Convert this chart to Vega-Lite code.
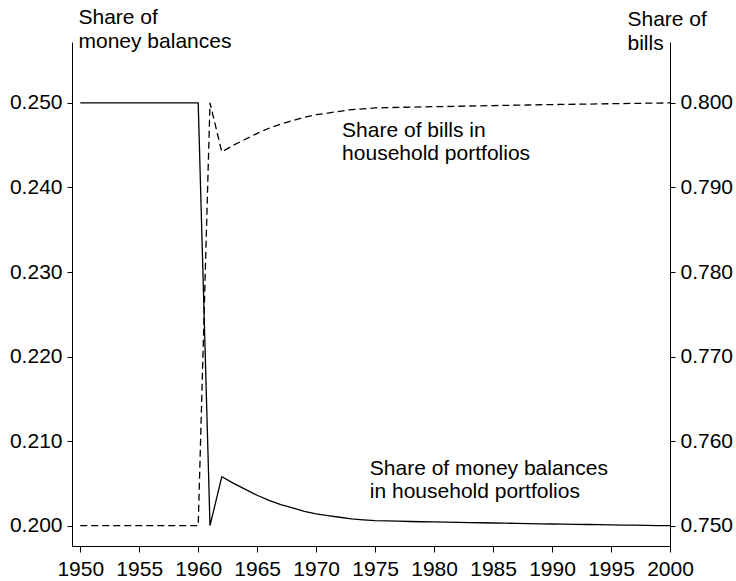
{
  "$schema": "https://vega.github.io/schema/vega-lite/v6.json",
  "width": 598,
  "height": 504,
  "autosize": "none",
  "padding": {"left": 72, "top": 42, "right": 66, "bottom": 35},
  "data": {
    "values": [
      {"year": 1950, "money": 0.25, "bills": 0.75},
      {"year": 1951, "money": 0.25, "bills": 0.75},
      {"year": 1952, "money": 0.25, "bills": 0.75},
      {"year": 1953, "money": 0.25, "bills": 0.75},
      {"year": 1954, "money": 0.25, "bills": 0.75},
      {"year": 1955, "money": 0.25, "bills": 0.75},
      {"year": 1956, "money": 0.25, "bills": 0.75},
      {"year": 1957, "money": 0.25, "bills": 0.75},
      {"year": 1958, "money": 0.25, "bills": 0.75},
      {"year": 1959, "money": 0.25, "bills": 0.75},
      {"year": 1960, "money": 0.25, "bills": 0.75},
      {"year": 1961, "money": 0.2, "bills": 0.8},
      {"year": 1962, "money": 0.2058, "bills": 0.7942},
      {"year": 1963, "money": 0.205, "bills": 0.795},
      {"year": 1964, "money": 0.2043, "bills": 0.7957},
      {"year": 1965, "money": 0.2036, "bills": 0.7964},
      {"year": 1966, "money": 0.203, "bills": 0.797},
      {"year": 1967, "money": 0.2025, "bills": 0.7975},
      {"year": 1968, "money": 0.2021, "bills": 0.7979},
      {"year": 1969, "money": 0.2017, "bills": 0.7983},
      {"year": 1970, "money": 0.2014, "bills": 0.7986},
      {"year": 1971, "money": 0.2012, "bills": 0.7988},
      {"year": 1972, "money": 0.201, "bills": 0.799},
      {"year": 1973, "money": 0.2008, "bills": 0.7992},
      {"year": 1974, "money": 0.2007, "bills": 0.7993},
      {"year": 1975, "money": 0.2006, "bills": 0.7994},
      {"year": 1976, "money": 0.20056, "bills": 0.79944},
      {"year": 1977, "money": 0.20053, "bills": 0.79947},
      {"year": 1978, "money": 0.2005, "bills": 0.7995},
      {"year": 1979, "money": 0.20047, "bills": 0.79953},
      {"year": 1980, "money": 0.20045, "bills": 0.79955},
      {"year": 1981, "money": 0.20043, "bills": 0.79957},
      {"year": 1982, "money": 0.2004, "bills": 0.7996},
      {"year": 1983, "money": 0.20037, "bills": 0.79963},
      {"year": 1984, "money": 0.20035, "bills": 0.79965},
      {"year": 1985, "money": 0.20032, "bills": 0.79968},
      {"year": 1986, "money": 0.2003, "bills": 0.7997},
      {"year": 1987, "money": 0.20027, "bills": 0.79973},
      {"year": 1988, "money": 0.20025, "bills": 0.79975},
      {"year": 1989, "money": 0.20022, "bills": 0.79978},
      {"year": 1990, "money": 0.2002, "bills": 0.7998},
      {"year": 1991, "money": 0.20018, "bills": 0.79982},
      {"year": 1992, "money": 0.20016, "bills": 0.79984},
      {"year": 1993, "money": 0.20014, "bills": 0.79986},
      {"year": 1994, "money": 0.20012, "bills": 0.79988},
      {"year": 1995, "money": 0.2001, "bills": 0.7999},
      {"year": 1996, "money": 0.20008, "bills": 0.79992},
      {"year": 1997, "money": 0.20006, "bills": 0.79994},
      {"year": 1998, "money": 0.20004, "bills": 0.79996},
      {"year": 1999, "money": 0.20002, "bills": 0.79998},
      {"year": 2000, "money": 0.2, "bills": 0.8}
    ]
  },
  "layer": [
    {
      "layer": [
        {
          "mark": {"type": "line", "color": "black", "strokeWidth": 1.3},
          "encoding": {
            "x": {
              "field": "year",
              "type": "quantitative",
              "scale": {"domain": [1949.3, 2000], "nice": false, "zero": false},
              "axis": {
                "title": null,
                "values": [1950, 1955, 1960, 1965, 1970, 1975, 1980, 1985, 1990, 1995, 2000],
                "format": "d",
                "tickSize": 6,
                "labelPadding": 6,
                "labelFlush": false,
                "labelOverlap": false
              }
            },
            "y": {
              "field": "money",
              "type": "quantitative",
              "scale": {"domain": [0.1976, 0.2572], "nice": false, "zero": false},
              "axis": {
                "orient": "left",
                "values": [0.2, 0.21, 0.22, 0.23, 0.24, 0.25],
                "format": ".3f",
                "tickSize": 5,
                "labelPadding": 5,
                "title": ["Share of", "money balances"],
                "titleAngle": 0,
                "titleAlign": "left",
                "titleBaseline": "alphabetic",
                "titleX": 6,
                "titleY": -19,
                "titleLineHeight": 24
              }
            }
          }
        },
        {
          "data": {"values": [{}]},
          "mark": {
            "type": "text",
            "text": "Share of money balances\nin household portfolios",
            "lineBreak": "\n",
            "align": "left",
            "baseline": "alphabetic",
            "font": "Liberation Sans",
            "fontSize": 21,
            "lineHeight": 23.5,
            "color": "black"
          },
          "encoding": {
            "x": {"datum": 1974.55, "type": "quantitative"},
            "y": {"datum": 0.20601, "type": "quantitative"}
          }
        }
      ]
    },
    {
      "layer": [
        {
          "mark": {"type": "line", "color": "black", "strokeWidth": 1.3, "strokeDash": [7, 4]},
          "encoding": {
            "x": {"field": "year", "type": "quantitative"},
            "y": {
              "field": "bills",
              "type": "quantitative",
              "scale": {"domain": [0.7476, 0.8072], "nice": false, "zero": false},
              "axis": {
                "orient": "right",
                "values": [0.75, 0.76, 0.77, 0.78, 0.79, 0.8],
                "format": ".3f",
                "tickSize": 5,
                "labelPadding": 5,
                "title": ["Share of", "bills"],
                "titleAngle": 0,
                "titleAlign": "left",
                "titleBaseline": "alphabetic",
                "titleX": -43,
                "titleY": -17,
                "titleLineHeight": 24
              }
            }
          }
        },
        {
          "data": {"values": [{}]},
          "mark": {
            "type": "text",
            "text": "Share of bills in\nhousehold portfolios",
            "lineBreak": "\n",
            "align": "left",
            "baseline": "alphabetic",
            "font": "Liberation Sans",
            "fontSize": 21,
            "lineHeight": 23.5,
            "color": "black"
          },
          "encoding": {
            "x": {"datum": 1972.2, "type": "quantitative"},
            "y": {"datum": 0.79602, "type": "quantitative"}
          }
        }
      ]
    }
  ],
  "resolve": {"scale": {"y": "independent"}},
  "config": {
    "view": {"stroke": null},
    "axis": {
      "grid": false,
      "labelFont": "Liberation Sans",
      "titleFont": "Liberation Sans",
      "labelFontSize": 21,
      "titleFontSize": 21,
      "titleFontWeight": "normal",
      "labelColor": "black",
      "titleColor": "black",
      "domainColor": "black",
      "tickColor": "black",
      "domainWidth": 1,
      "tickWidth": 1
    }
  }
}
